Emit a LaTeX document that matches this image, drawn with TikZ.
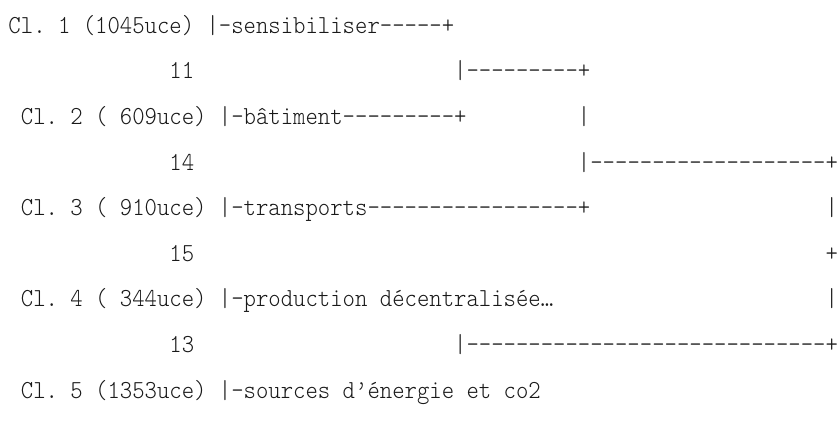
\documentclass[tikz,border=0pt]{standalone}
\usepackage{fontspec}
\setmonofont{Latin Modern Mono Light}
\newcommand\vs[1]{\scalebox{1}[1.1]{#1}}
\begin{document}
\begin{tikzpicture}[x=1pt,y=1pt,
  ln/.style={anchor=base west, inner sep=0pt, outer sep=0pt,
    font=\ttfamily\fontsize{23.58}{26}\selectfont, text=black!90}]
\useasboundingbox (0,0) rectangle (838,-424);
\def\cw{12.38}
\def\xo{8.5}
\def\bl{33.3}
\def\ls{45.6}
% line 1
\node[ln] (l1a) at ({\xo+0*\cw},{-\bl-0*\ls}) {\vs{Cl. 1 (1045uce) |-sensibiliser-----+}};
% line 2
\node[ln] (l2a) at ({\xo+13*\cw},{-\bl-1*\ls}) {\vs{11}};
\node[ln] (l2b) at ({\xo+36*\cw},{-\bl-1*\ls}) {\vs{|---------+}};
% line 3
\node[ln] (l3a) at ({\xo+1*\cw},{-\bl-2*\ls}) {\vs{Cl. 2 ( 609uce) |-bâtiment---------+}};
\node[ln] (l3b) at ({\xo+46*\cw},{-\bl-2*\ls}) {\vs{|}};
% line 4
\node[ln] (l4a) at ({\xo+13*\cw},{-\bl-3*\ls}) {\vs{14}};
\node[ln] (l4b) at ({\xo+46*\cw},{-\bl-3*\ls}) {\vs{|-------------------+}};
% line 5
\node[ln] (l5a) at ({\xo+1*\cw},{-\bl-4*\ls}) {\vs{Cl. 3 ( 910uce) |-transports-----------------+}};
\node[ln] (l5b) at ({\xo+66*\cw},{-\bl-4*\ls}) {\vs{|}};
% line 6
\node[ln] (l6a) at ({\xo+13*\cw},{-\bl-5*\ls}) {\vs{15}};
\node[ln] (l6b) at ({\xo+66*\cw},{-\bl-5*\ls}) {\vs{+}};
% line 7
\node[ln] (l7a) at ({\xo+1*\cw},{-\bl-6*\ls}) {\vs{Cl. 4 ( 344uce) |-production décentralisée…}};
\node[ln] (l7b) at ({\xo+66*\cw},{-\bl-6*\ls}) {\vs{|}};
% line 8
\node[ln] (l8a) at ({\xo+13*\cw},{-\bl-7*\ls}) {\vs{13}};
\node[ln] (l8b) at ({\xo+36*\cw},{-\bl-7*\ls}) {\vs{|-----------------------------+}};
% line 9
\node[ln] (l9a) at ({\xo+1*\cw},{-\bl-8*\ls}) {\vs{Cl. 5 (1353uce) |-sources d’énergie et co2}};
\end{tikzpicture}
\end{document}
